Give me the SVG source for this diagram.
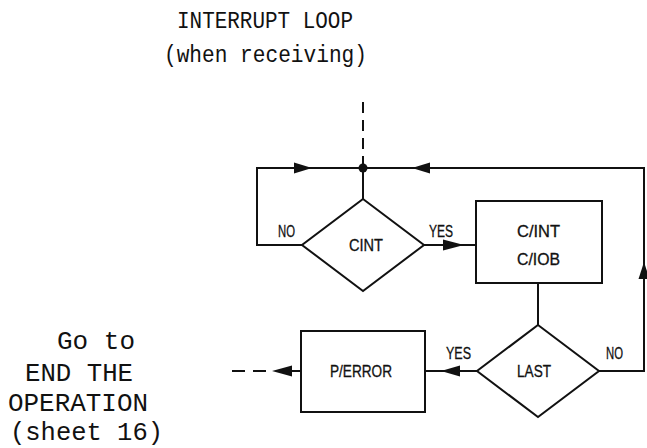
<svg xmlns="http://www.w3.org/2000/svg" width="647" height="448" viewBox="0 0 647 448">
<style>
.ln{fill:none;stroke:#111;stroke-width:2}
.dash{fill:none;stroke:#111;stroke-width:2;stroke-dasharray:11 7}
.shape{fill:#fff;stroke:#111;stroke-width:2}
.ah{fill:#111}
.lbl{font-family:"Liberation Sans",Arial,sans-serif;font-size:16px;fill:#111;stroke:#111;stroke-width:0.3}
.tw{font-family:"Liberation Mono","Courier New",monospace;fill:#111}
</style>
<rect width="647" height="448" fill="#fff"/>
<g id="title">
<text class="tw" x="177" y="28" font-size="23" textLength="176" lengthAdjust="spacingAndGlyphs">INTERRUPT LOOP</text>
<text class="tw" x="164" y="62" font-size="23" textLength="203" lengthAdjust="spacingAndGlyphs">(when receiving)</text>
</g>
<g id="goto">
<text class="tw" x="57" y="349" font-size="26" textLength="78" lengthAdjust="spacingAndGlyphs">Go to</text>
<text class="tw" x="25" y="381" font-size="26" textLength="108" lengthAdjust="spacingAndGlyphs">END THE</text>
<text class="tw" x="8" y="411" font-size="26" textLength="140" lengthAdjust="spacingAndGlyphs">OPERATION</text>
<text class="tw" x="10" y="440" font-size="26" textLength="153" lengthAdjust="spacingAndGlyphs">(sheet 16)</text>
</g>
<g id="connectors">
<path class="dash" d="M363 102 V168"/>
<path class="ln" d="M363 168 V199"/>
<path class="ln" d="M302 245 H257 V168 H644 V371 H599"/>
<circle cx="363" cy="168" r="4.5" class="ah"/>
<polygon class="ah" points="312,168 294,162.5 294,173.5"/>
<polygon class="ah" points="412,168 430,162.5 430,173.5"/>
<polygon class="ah" points="644,262 638.5,279 649.5,279"/>
<path class="ln" d="M424 245 H476"/>
<polygon class="ah" points="464,245 443,239.5 443,250.5"/>
<path class="ln" d="M538 283 V325"/>
<path class="ln" d="M477 371 H425"/>
<polygon class="ah" points="441,371 460,365.5 460,376.5"/>
<path class="ln" d="M301 371 H285"/>
<polygon class="ah" points="272,371 292,365.5 292,376.5"/>
<path class="dash" d="M232 371 H272" style="stroke-dasharray:13 8"/>
<text class="lbl" x="278" y="237" textLength="17" lengthAdjust="spacingAndGlyphs">NO</text>
<text class="lbl" x="429" y="237" textLength="24" lengthAdjust="spacingAndGlyphs">YES</text>
<text class="lbl" x="446" y="359" textLength="25" lengthAdjust="spacingAndGlyphs">YES</text>
<text class="lbl" x="606" y="359" textLength="17" lengthAdjust="spacingAndGlyphs">NO</text>
</g>
<g id="cint">
<polygon class="shape" points="363,199 424,245 363,291 302,245"/>
<text class="lbl" x="349" y="251" textLength="34" lengthAdjust="spacingAndGlyphs">CINT</text>
</g>
<g id="cint-ciob">
<rect class="shape" x="476" y="201" width="126" height="82"/>
<text class="lbl" x="517" y="237" textLength="43" lengthAdjust="spacingAndGlyphs">C/INT</text>
<text class="lbl" x="517" y="265" textLength="43" lengthAdjust="spacingAndGlyphs">C/IOB</text>
</g>
<g id="last">
<polygon class="shape" points="538,325 599,371 538,417 477,371"/>
<text class="lbl" x="517" y="377" textLength="34" lengthAdjust="spacingAndGlyphs">LAST</text>
</g>
<g id="perror">
<rect class="shape" x="301" y="331" width="124" height="81"/>
<text class="lbl" x="330" y="377" textLength="62" lengthAdjust="spacingAndGlyphs">P/ERROR</text>
</g>
</svg>
